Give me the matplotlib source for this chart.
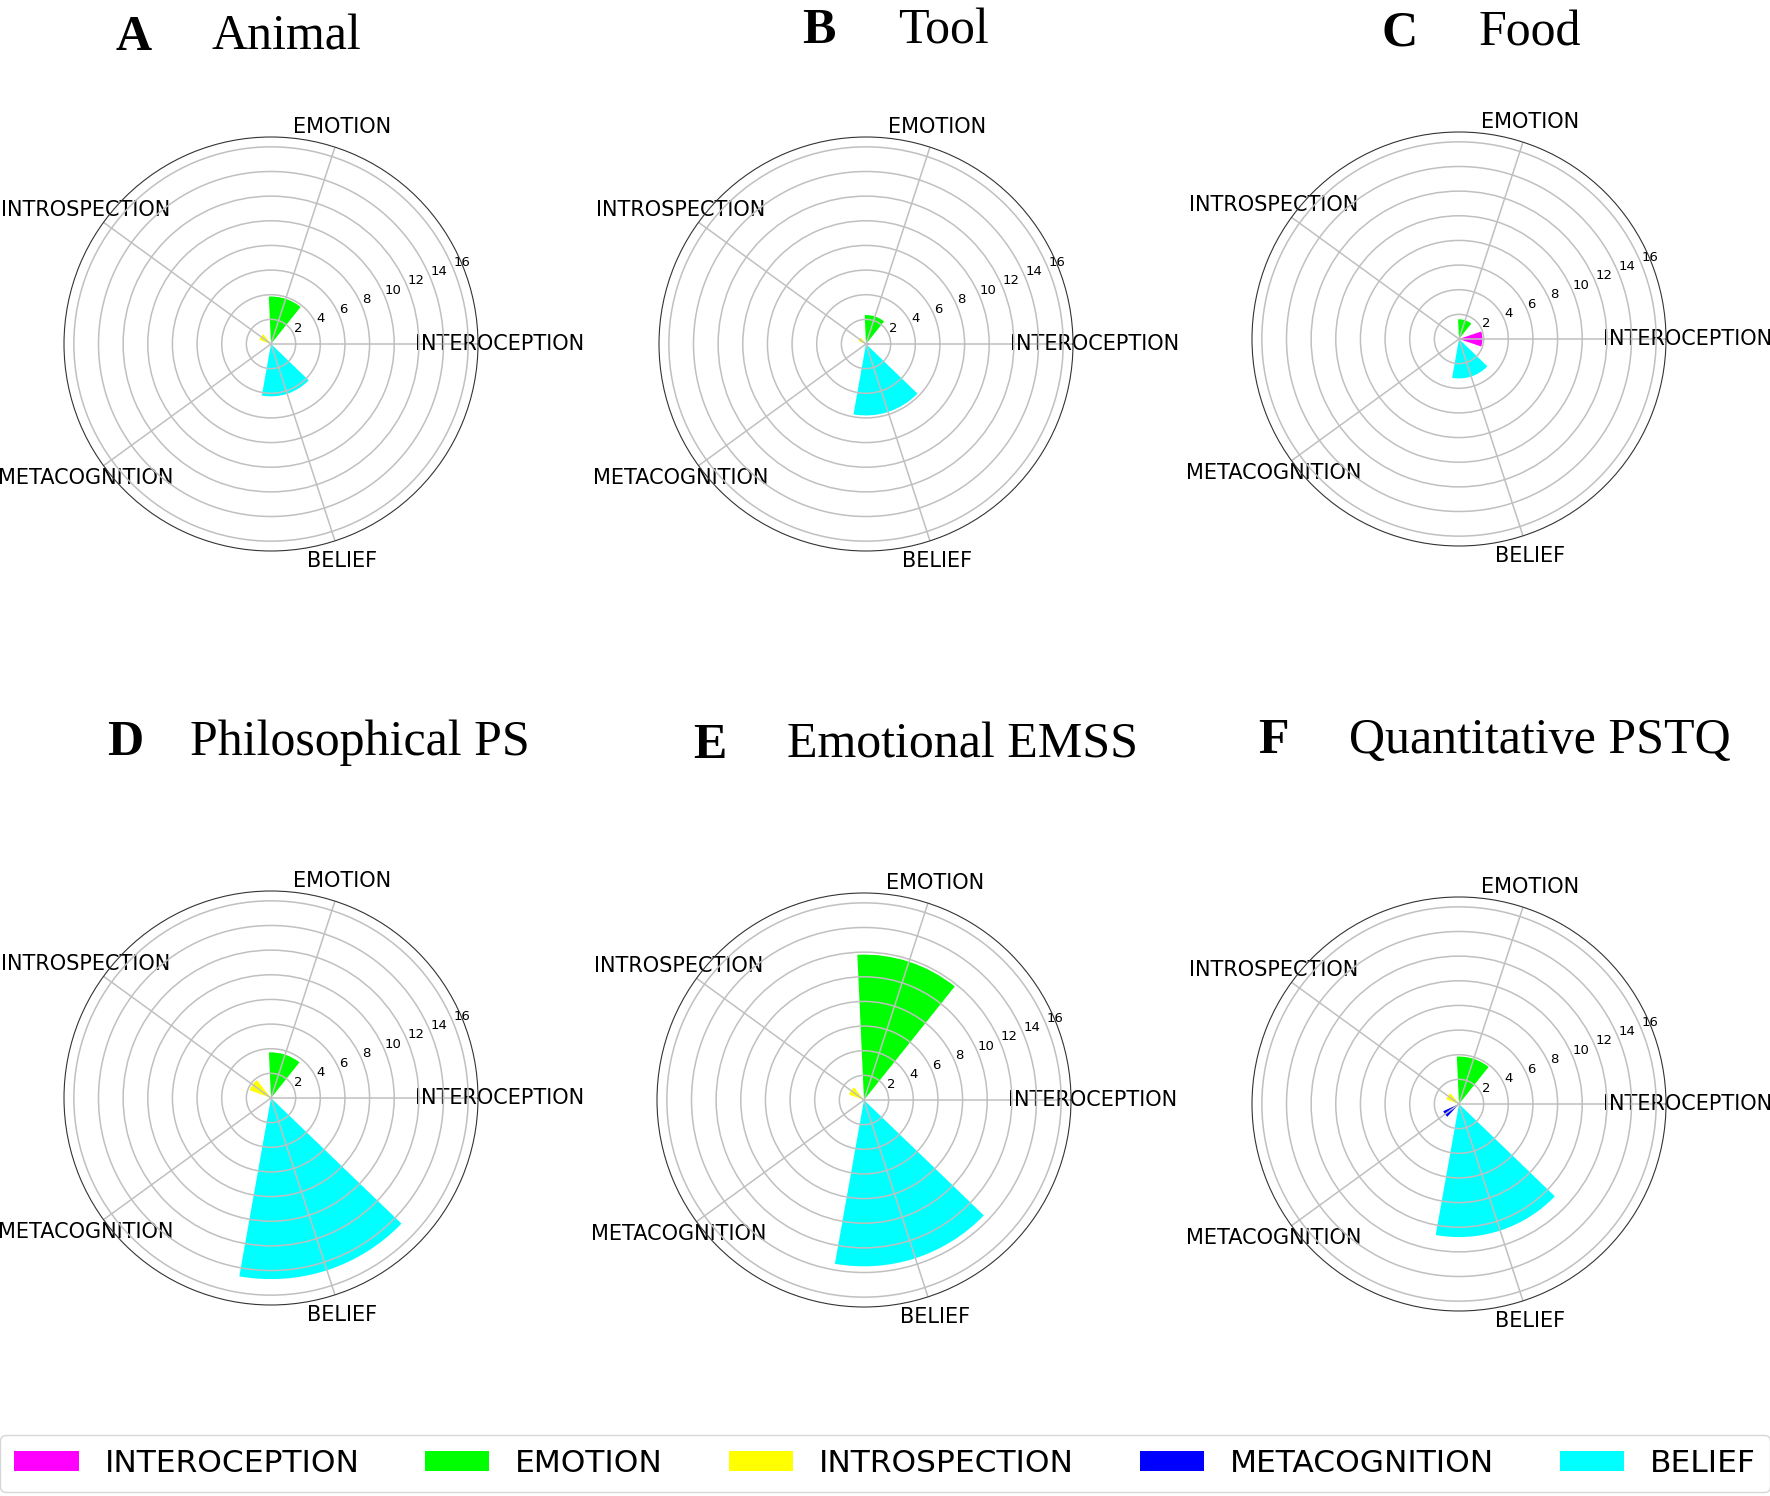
import numpy as np
import matplotlib
matplotlib.use('Agg')
import matplotlib.pyplot as plt
from matplotlib.patches import Patch

categories = ['INTEROCEPTION', 'EMOTION', 'INTROSPECTION', 'METACOGNITION', 'BELIEF']
colors = ['#ff00ff', '#00ff00', '#ffff00', '#0000ff', '#00ffff']
bar_widths = [0.65, 0.72, 0.55, 0.40, 0.98]

animal = [0, 3.85, 1.0, 0, 4.25]
tool = [0.25, 2.35, 0.65, 0, 5.8]
food = [1.9, 1.6, 0.15, 0, 3.2]
philosophical = [0, 3.7, 1.85, 0, 14.7]
emotional = [0, 11.8, 1.3, 0, 13.5]
quantitative = [0, 3.85, 1.1, 1.4, 10.8]

letters = ['A', 'B', 'C', 'D', 'E', 'F']
names = ['Animal', 'Tool', 'Food', 'Philosophical PS', 'Emotional EMSS', 'Quantitative PSTQ']
panels = [animal, tool, food, philosophical, emotional, quantitative]

W, H = 1770, 1496
# pixel layout of each panel: circle centre, letter x, name x, title baseline
centres = [(271, 344), (866, 344), (1459, 339), (271, 1098), (864, 1100), (1459, 1104)]
letter_x = [115, 802, 1382, 107, 693, 1258]
name_x = [212, 898, 1479, 190, 787, 1349]
title_y = [50, 43, 46, 755, 758, 753]
R = 207

fig = plt.figure(figsize=(W / 100, H / 100), dpi=100)
theta = np.linspace(0, 2 * np.pi, len(categories), endpoint=False)

for i, vals in enumerate(panels):
    cx, cy = centres[i]
    ax = fig.add_axes([(cx - R) / W, (H - cy - R) / H, 2 * R / W, 2 * R / H], projection='polar')
    ax.bar(theta, vals, width=bar_widths, color=colors, linewidth=0)
    ax.set_ylim(0, 16.8)
    ax.set_yticks(range(2, 17, 2))
    ax.set_yticklabels([str(v) for v in range(2, 17, 2)], fontsize=9.5)
    ax.set_rlabel_position(22.5)
    ax.set_xticks(theta)
    ax.set_xticklabels(categories, fontsize=15)
    ax.tick_params(axis='x', pad=5)
    ax.grid(True, color='#c0c0c0', linewidth=1.1)
    ax.spines['polar'].set_color('#333333')

    fig.text(letter_x[i] / W, 1 - title_y[i] / H, letters[i], fontsize=36,
             fontweight='bold', family='Liberation Serif', va='baseline')
    fig.text(name_x[i] / W, 1 - title_y[i] / H, names[i], fontsize=36,
             family='Liberation Serif', va='baseline')

handles = [Patch(facecolor=c, label=l) for c, l in zip(colors, categories)]
fig.legend(handles=handles, loc='lower center', bbox_to_anchor=(0.5, 4 / H), ncol=5,
           fontsize=22.5, handlelength=2.06, handleheight=0.65, handletextpad=0.83,
           columnspacing=2.1, borderpad=0.45, borderaxespad=0, frameon=True)

fig.savefig('out.png', dpi=100)
